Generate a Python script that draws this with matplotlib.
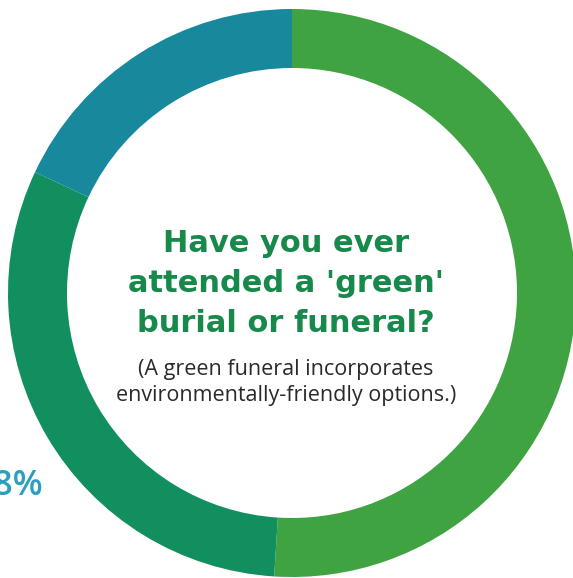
import matplotlib
matplotlib.use("Agg")
import matplotlib.pyplot as plt

# Survey answer shares (percent), drawn clockwise from 12 o'clock
answers = ["No", "Not sure", "Yes"]
shares = [51, 31, 18]
colors = ["#3fa342", "#128f5f", "#18889d"]

title_lines = ["Have you ever", "attended a 'green'", "burial or funeral?"]
note_lines = ["(A green funeral incorporates", "environmentally-friendly options.)"]

W, H = 573, 578
fig = plt.figure(figsize=(W / 100, H / 100), dpi=100)
ax = fig.add_axes([0, 0, 1, 1])

cx, cy = 292, H - 293
r_out = 284
ax.pie(shares, colors=colors, startangle=90, counterclock=False,
       center=(cx, cy), radius=r_out,
       wedgeprops=dict(width=59, linewidth=0))

ax.set_xlim(0, W)
ax.set_ylim(0, H)
ax.set_aspect("equal")
ax.axis("off")

title_y = [H - 244, H - 284, H - 323]
for s, y in zip(title_lines, title_y):
    ax.text(cx - 6, y, s, ha="center", va="center", color="#17894a",
            fontsize=22, fontweight="bold", family=["DejaVu Sans"])

note_y = [H - 369, H - 396]
for s, y in zip(note_lines, note_y):
    ax.text(cx - 6, y, s, ha="center", va="center", color="#2a2a2a",
            fontsize=15.5, family=["Open Sans", "DejaVu Sans"])

# share label for the blue segment, partly off the left edge
ax.text(43, H - 486, f"{shares[2]}%", ha="right", va="center",
        color="#2b9fc0", fontsize=25, fontweight="semibold",
        family=["Open Sans", "DejaVu Sans"])

fig.savefig("out.png", dpi=100)
